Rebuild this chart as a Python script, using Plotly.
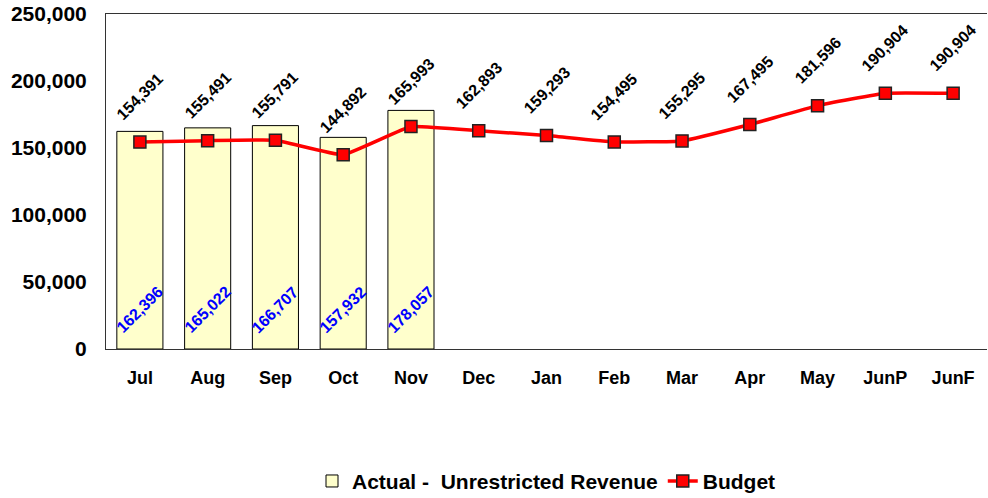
import plotly.graph_objects as go

months = ["Jul", "Aug", "Sep", "Oct", "Nov", "Dec", "Jan", "Feb", "Mar", "Apr", "May", "JunP", "JunF"]
actual = [162396, 165022, 166707, 157932, 178057]
budget = [154391, 155491, 155791, 144892, 165993, 162893, 159293, 154495, 155295, 167495, 181596, 190904, 190904]
y_ticks = [0, 50000, 100000, 150000, 200000, 250000]

FONT = "Liberation Sans, Arial, sans-serif"

fig = go.Figure()
fig.add_trace(go.Bar(
    x=months[:len(actual)], y=actual, name="Actual -  Unrestricted Revenue",
    marker=dict(color="#FFFFCC", line=dict(color="black", width=1)),
))
fig.add_trace(go.Scatter(
    x=months, y=budget, name="Budget", mode="lines+markers",
    line=dict(color="#FF0000", width=3.5, shape="spline", smoothing=0.3),
    marker=dict(symbol="square", size=12, color="#FF0000", line=dict(color="#222222", width=1.5)),
))

annotations = []
for m, v in zip(months, budget):
    annotations.append(dict(
        x=m, y=v, xref="x", yref="y", text=f"{v:,}", showarrow=False,
        textangle=-45, yanchor="bottom", xanchor="center", yshift=16,
        font=dict(family=FONT, size=16, color="black", weight="bold"),
    ))
for m, v in zip(months, actual):
    annotations.append(dict(
        x=m, y=0, xref="x", yref="y", text=f"{v:,}", showarrow=False,
        textangle=-45, yanchor="bottom", xanchor="center", yshift=10,
        font=dict(family=FONT, size=16, color="#0000FF", weight="bold"),
    ))

fig.update_layout(
    width=988, height=498,
    margin=dict(l=106, r=1, t=14, b=149, autoexpand=False),
    paper_bgcolor="white", plot_bgcolor="white",
    bargap=0.32,
    font=dict(family=FONT, color="black"),
    showlegend=True,
    legend=dict(orientation="h", x=0.5, xanchor="center", y=-0.395, yanchor="middle",
                font=dict(family=FONT, size=21, color="black", weight="bold"),
                tracegroupgap=0),
    annotations=annotations,
    xaxis=dict(showline=True, linecolor="#333333", linewidth=1, mirror=True, showgrid=False,
               ticks="", tickfont=dict(family=FONT, size=18, weight="bold"),
               categoryorder="array", categoryarray=months, automargin=False,
               range=[-0.5, len(months) - 0.5], ticklabelstandoff=12),
    yaxis=dict(range=[0, 250000], tickvals=y_ticks, tickformat=",", showline=True,
               linecolor="#333333", linewidth=1, mirror=False, showgrid=False, zeroline=False,
               ticks="", tickfont=dict(family=FONT, size=21, weight="bold"),
               ticklabelstandoff=14, automargin=False, ticklabeloverflow="allow"),
)

fig.write_html("out.html", config={"displayModeBar": False},
               post_script="document.body.style.margin='0';document.body.style.padding='0';")
